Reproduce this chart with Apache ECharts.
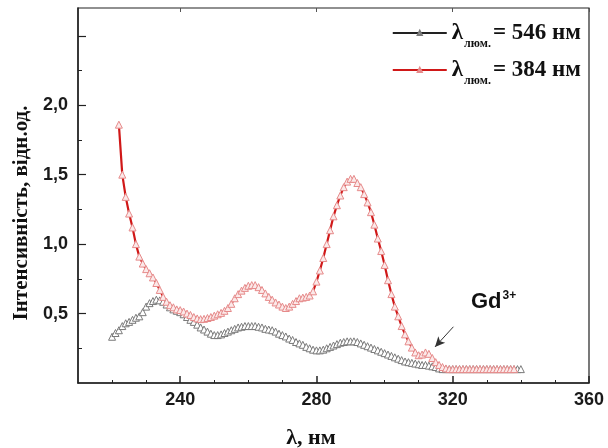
<!DOCTYPE html>
<html><head><meta charset="utf-8">
<script src="https://cdn.jsdelivr.net/npm/echarts@6/dist/echarts.min.js"></script>
<style>html,body{margin:0;padding:0;background:#fff}#c{width:608px;height:448px}</style>
</head><body><div id="c"></div>
<script>
// wavelengths (nm): step 1 nm
const blackStart = 220;
const blackValues = [
0.333,0.36,0.38,0.41,0.43,0.44,0.455,0.47,0.48,0.51,
0.55,0.575,0.59,0.60,0.595,0.585,0.565,0.545,0.53,0.52,
0.51,0.495,0.475,0.455,0.44,0.42,0.40,0.385,0.37,0.355,
0.345,0.345,0.35,0.36,0.37,0.38,0.39,0.40,0.405,0.41,
0.41,0.41,0.41,0.405,0.40,0.39,0.385,0.38,0.37,0.355,
0.345,0.335,0.32,0.31,0.295,0.285,0.275,0.26,0.25,0.24,
0.235,0.235,0.24,0.25,0.26,0.27,0.28,0.29,0.295,0.30,
0.30,0.30,0.295,0.285,0.275,0.265,0.255,0.245,0.235,0.225,
0.215,0.205,0.195,0.185,0.175,0.165,0.155,0.15,0.145,0.14,
0.135,0.13,0.13,0.125,0.12,0.115,0.105,0.10,0.10,0.10,
0.10,0.10,0.10,0.10,0.10,0.10,0.10,0.10,0.10,0.10,
0.10,0.10,0.10,0.10,0.10,0.10,0.10,0.10,0.10,0.10,0.10
];
const redStart = 222;
const redValues = [
1.86,1.50,1.34,1.22,1.12,1.00,0.91,0.86,
0.82,0.79,0.76,0.72,0.67,0.62,0.585,0.56,0.545,0.53,
0.525,0.515,0.50,0.49,0.475,0.465,0.46,0.462,0.468,0.475,
0.485,0.495,0.505,0.52,0.54,0.57,0.61,0.64,0.665,0.685,
0.70,0.705,0.705,0.69,0.67,0.645,0.62,0.60,0.58,0.565,
0.55,0.54,0.55,0.57,0.59,0.61,0.615,0.62,0.63,0.66,
0.73,0.81,0.90,1.00,1.10,1.20,1.28,1.35,1.41,1.45,
1.47,1.47,1.44,1.41,1.36,1.30,1.23,1.14,1.04,0.95,
0.85,0.74,0.64,0.55,0.48,0.41,0.35,0.30,0.255,0.22,
0.20,0.205,0.22,0.21,0.18,0.15,0.13,0.115,0.105,0.10,
0.10,0.10,0.10,0.10,0.10,0.10,0.10,0.10,0.10,0.10,
0.10,0.10,0.10,0.10,0.10,0.10,0.10,0.10,0.10
];
const seriesNames = ['546', '384'];
const xMajorTicks = [240, 280, 320, 360];
const xMinorTicks = [220, 230, 250, 260, 270, 290, 300, 310, 330, 340, 350];
const yMajorTicks = [0.5, 1.0, 1.5, 2.0, 2.5];
const yMinorTicks = [0.25, 0.75, 1.25, 1.75, 2.25];
const yLabels = [0.5, 1.0, 1.5, 2.0];
const arrowFrom = [320.2, 0.405];
const arrowTo = [314.8, 0.26];

const toPairs = (start, vals) => vals.map((v, i) => [start + i, v]);

const chart = echarts.init(document.getElementById('c'));
const tickFont = {fontFamily: 'Liberation Sans', fontWeight: 'bold', fontSize: 18, color: '#1a1a1a'};
const axisLineStyle = {color: '#222', width: 1.5};

chart.setOption({
  animation: false,
  grid: {left: 78, right: 19, top: 8, bottom: 65, show: true, borderColor: '#222', borderWidth: 1.2},
  xAxis: [
    {type: 'value', min: 210, max: 360, position: 'bottom',
     axisLine: {show: true, lineStyle: axisLineStyle},
     axisTick: {show: true, inside: true, length: 3, customValues: xMinorTicks, lineStyle: {color: '#222'}},
     axisLabel: {customValues: xMajorTicks, margin: 8, ...tickFont},
     splitLine: {show: false}},
    {type: 'value', min: 210, max: 360, position: 'bottom', offset: 0,
     axisLine: {show: false},
     axisTick: {show: true, inside: true, length: 7, customValues: xMajorTicks, lineStyle: {color: '#222', width: 1.5}},
     axisLabel: {show: false}, splitLine: {show: false}},
    {type: 'value', min: 210, max: 360, position: 'top',
     axisLine: {show: false},
     axisTick: {show: true, inside: true, length: 4, customValues: xMajorTicks, lineStyle: {color: '#555'}},
     axisLabel: {show: false}, splitLine: {show: false}}
  ],
  yAxis: [
    {type: 'value', min: 0, max: 2.7, position: 'left',
     axisLine: {show: true, lineStyle: axisLineStyle},
     axisTick: {show: true, inside: true, length: 4, customValues: yMinorTicks, lineStyle: {color: '#222'}},
     axisLabel: {customValues: yLabels, margin: 10, ...tickFont,
       formatter: v => v.toFixed(1).replace('.', ',')},
     splitLine: {show: false}},
    {type: 'value', min: 0, max: 2.7, position: 'left', offset: 0,
     axisLine: {show: false},
     axisTick: {show: true, inside: true, length: 8, customValues: yMajorTicks, lineStyle: {color: '#222', width: 1.2}},
     axisLabel: {show: false}, splitLine: {show: false}}
  ],
  legend: {
    orient: 'vertical', right: 22, top: 11, itemGap: 3,
    itemWidth: 54, itemHeight: 5,
    data: seriesNames,
    formatter: name => '{l|λ}{s|люм.}{l|= ' + name + ' нм}',
    textStyle: {
      rich: {
        l: {fontFamily: 'Liberation Serif', fontWeight: 'bold', fontSize: 23, color: '#111', lineHeight: 30},
        s: {fontFamily: 'Liberation Serif', fontWeight: 'bold', fontSize: 12, color: '#111', padding: [22, 2, 0, 1], lineHeight: 30}
      }
    }
  },
  series: [
    {name: seriesNames[0], type: 'line', data: toPairs(blackStart, blackValues),
     symbol: 'triangle', symbolSize: 7, showAllSymbol: true,
     lineStyle: {color: '#222', width: 1},
     itemStyle: {color: '#fff', borderColor: '#7a7a7a', borderWidth: 1}},
    {name: seriesNames[1], type: 'line', data: toPairs(redStart, redValues),
     symbol: 'triangle', symbolSize: 7, showAllSymbol: true,
     lineStyle: {color: '#d01818', width: 2.2},
     itemStyle: {color: '#fbe9e9', borderColor: '#e68a8a', borderWidth: 1},
     markLine: {silent: true, symbol: ['none', 'arrow'], symbolSize: [7, 10],
       lineStyle: {color: '#333', width: 1, type: 'solid'}, label: {show: false},
       data: [[{coord: arrowFrom}, {coord: arrowTo}]]}}
  ],
  graphic: [
    {type: 'text', left: 471, top: 290, style: {
      text: '{a|Gd}{b|3+}',
      rich: {
        a: {fontFamily: 'Liberation Sans', fontWeight: 'bold', fontSize: 22, fill: '#111'},
        b: {fontFamily: 'Liberation Sans', fontWeight: 'bold', fontSize: 12, fill: '#111', padding: [0, 0, 12, 1]}
      }}},
    {type: 'text', x: 311, y: 438, style: {
      text: 'λ, нм', fontFamily: 'Liberation Serif', fontWeight: 'bold', fontSize: 22, fill: '#111',
      align: 'center', verticalAlign: 'middle'}},
    {type: 'text', x: 22, y: 213, rotation: Math.PI / 2, style: {
      text: 'Інтенсивність, відн.од.', fontFamily: 'Liberation Serif', fontWeight: 'bold', fontSize: 21, fill: '#111',
      align: 'center', verticalAlign: 'middle'}}
  ]
});
</script>
</body></html>
